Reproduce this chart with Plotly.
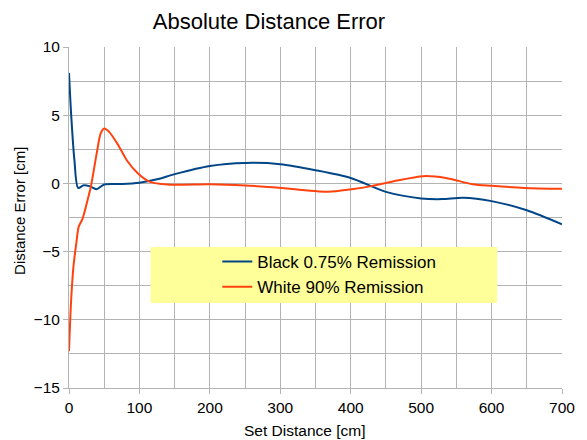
import plotly.graph_objects as go

black_x = [0, 3, 7.7, 13, 21, 30, 39, 50, 75, 100, 125, 150, 200, 250, 300, 350, 400, 450, 500, 530, 560, 600, 650, 700]
black_y = [8.1, 5.1, 1.7, -0.33, -0.13, -0.22, -0.43, -0.08, -0.05, 0.05, 0.3, 0.68, 1.28, 1.5, 1.41, 0.97, 0.4, -0.62, -1.1, -1.15, -1.05, -1.3, -1.97, -3.0]

white_x = [0, 3, 6.3, 10.9, 13.7, 19.3, 26, 31, 40, 45, 50, 57, 70, 82, 98, 115, 140, 200, 250, 294, 368, 401, 429, 461, 503, 535, 573, 601, 647, 700]
white_y = [-12.3, -8.6, -6.1, -4.17, -3.19, -2.58, -1.3, -0.25, 2.4, 3.66, 4.03, 3.78, 2.8, 1.7, 0.73, 0.11, -0.08, -0.06, -0.15, -0.3, -0.62, -0.43, -0.2, 0.16, 0.53, 0.4, -0.06, -0.18, -0.33, -0.4]

names = ["Black 0.75% Remission", "White 90% Remission"]
colors = ["#004586", "#ff420e"]

W, H = 587, 440
L, R, T, B = 69, 16, 47, 52
pw, ph = W - L - R, H - T - B

def px2x(p):
    return (p - L) / pw

def px2y(p):
    return (H - B - p) / ph

fig = go.Figure()
fig.add_trace(go.Scatter(x=black_x, y=black_y, mode="lines", name=names[0],
                         line=dict(color=colors[0], width=2, shape="spline", smoothing=0.8)))
fig.add_trace(go.Scatter(x=white_x, y=white_y, mode="lines", name=names[1],
                         line=dict(color=colors[1], width=2, shape="spline", smoothing=0.8)))

grid = "#b3b3b3"
fig.update_layout(
    width=W, height=H, autosize=False,
    margin=dict(l=L, r=R, t=T, b=B),
    paper_bgcolor="white", plot_bgcolor="white",
    font=dict(family="Liberation Sans, Arial, sans-serif", color="black", size=15),
    title=dict(text="Absolute Distance Error", x=269 / W, xref="container", xanchor="center",
               y=1 - 21 / H, yref="container", yanchor="middle",
               font=dict(size=22, color="black")),
    xaxis=dict(range=[0, 700], dtick=100, tick0=0, showgrid=True, gridcolor=grid, gridwidth=1,
               zeroline=False, showline=True, linecolor=grid, mirror=False,
               ticks="outside", ticklen=5, tickcolor=grid, tickfont=dict(size=15.5),
               minor=dict(dtick=50, showgrid=True, gridcolor=grid, ticks="")),
    yaxis=dict(range=[-15, 10], dtick=5, tick0=0, showgrid=True, gridcolor=grid, gridwidth=1,
               zeroline=False, showline=True, linecolor=grid,
               ticks="outside", ticklen=5, tickcolor=grid, tickfont=dict(size=15.5),
               minor=dict(dtick=2.5, showgrid=True, gridcolor=grid, ticks="")),
    showlegend=True,
    legend=dict(x=px2x(220), y=px2y(244), xanchor="left", yanchor="top",
                bgcolor="rgba(0,0,0,0)", font=dict(size=17), tracegroupgap=0),
    shapes=[dict(type="rect", xref="paper", yref="paper",
                 x0=px2x(152), x1=px2x(505), y0=px2y(303), y1=px2y(247),
                 fillcolor="#ffff99", line=dict(width=0), layer="above")],
    annotations=[
        dict(text="Distance Error [cm]", xref="paper", yref="paper", x=px2x(18), y=px2y(211),
             xanchor="center", yanchor="middle", textangle=-90, showarrow=False, font=dict(size=15)),
        dict(text="Set Distance [cm]", xref="paper", yref="paper", x=px2x(308.5), y=px2y(431),
             xanchor="center", yanchor="middle", showarrow=False, font=dict(size=15.5)),
    ],
)

fig.write_html("out.html",
               config={"responsive": False, "displayModeBar": False},
               post_script="document.body.style.margin='0';document.body.style.overflow='hidden';")
